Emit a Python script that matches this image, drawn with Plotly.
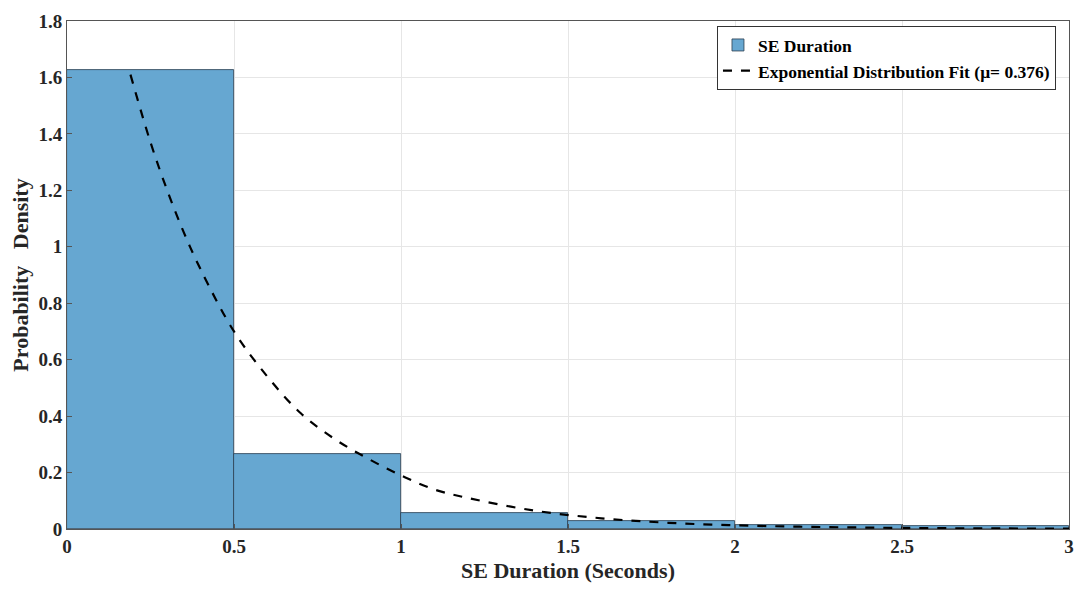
import plotly.graph_objects as go

# Histogram data (probability density)
bin_left = [0.0, 0.5, 1.0, 1.5, 2.0, 2.5]
bin_width = 0.5
density = [1.625, 0.265, 0.055, 0.028, 0.014, 0.012]

# Exponential fit curve points
fit_x = [0.19, 0.25, 0.3, 0.35, 0.4, 0.5, 0.6, 0.7, 0.8, 0.9, 1.0, 1.1, 1.2, 1.4, 1.6, 1.8, 2.0, 2.2, 2.4, 2.6, 2.8, 3.0]
fit_y = [1.61, 1.37, 1.20, 1.05, 0.92, 0.70, 0.54, 0.41, 0.32, 0.25, 0.19, 0.14, 0.11, 0.065, 0.038, 0.022, 0.013, 0.008, 0.005, 0.003, 0.002, 0.001]

x_ticks = [0, 0.5, 1, 1.5, 2, 2.5, 3]
y_ticks = [0, 0.2, 0.4, 0.6, 0.8, 1, 1.2, 1.4, 1.6, 1.8]

FONT = "Liberation Serif"

fig = go.Figure()
fig.add_trace(go.Bar(
    x=bin_left, y=density, width=[bin_width] * len(bin_left), offset=0,
    marker=dict(color="#66a7d1", line=dict(color="#2b3d4f", width=0.8)),
    name="SE Duration",
))
fig.add_trace(go.Scatter(
    x=fit_x, y=fit_y, mode="lines",
    line=dict(color="black", width=2.2, dash="dash", shape="spline"),
    name="Exponential Distribution Fit (\u03bc= 0.376)",
))

axis_common = dict(
    showline=True, linecolor="#555555", linewidth=1, mirror=True,
    showgrid=True, gridcolor="#e6e6e6", gridwidth=1,
    ticks="inside", ticklen=5, tickcolor="#555555",
    tickfont=dict(family=FONT, size=19, color="#262626", weight="bold"),
    zeroline=False, automargin=False, ticklabeloverflow="allow",
)

# page body has an 8px default margin; figure sized to fit the window
fig.update_layout(
    width=1067, height=576,
    margin=dict(l=59, r=6, t=13, b=55),
    paper_bgcolor="white", plot_bgcolor="white",
    font=dict(family=FONT, color="#262626"),
    bargap=0,
    showlegend=True,
    legend=dict(
        x=0.987, y=0.99, xanchor="right", yanchor="top",
        bgcolor="white", bordercolor="#333333", borderwidth=1,
        font=dict(family=FONT, size=17.5, color="black", weight="bold"),
        tracegroupgap=0, itemwidth=30,
    ),
    xaxis=dict(
        range=[0, 3], tickvals=x_ticks,
        title=dict(text="SE Duration (Seconds)", font=dict(family=FONT, size=22, color="#262626", weight="bold"), standoff=6),
        **axis_common,
    ),
    yaxis=dict(
        range=[0, 1.8], tickvals=y_ticks,
        title=dict(text="Probability   Density", font=dict(family=FONT, size=22, color="#262626", weight="bold"), standoff=6),
        **axis_common,
    ),
)

fig.write_html("out.html")
